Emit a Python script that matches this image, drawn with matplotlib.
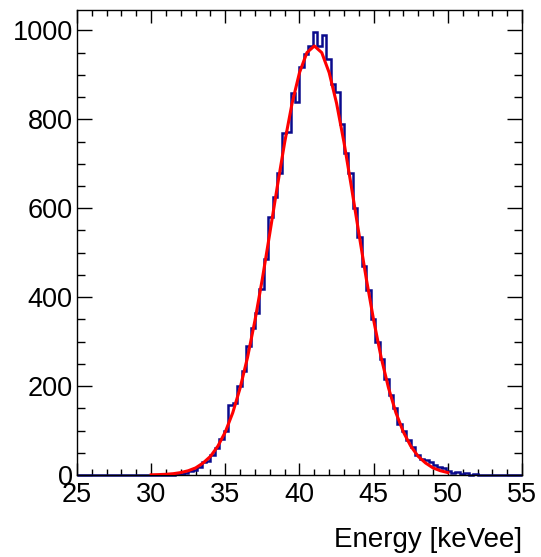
import numpy as np
import matplotlib
matplotlib.use("Agg")
import matplotlib.pyplot as plt
from matplotlib.ticker import MultipleLocator

# histogram: 100 bins from 25 to 55 keVee
X_MIN, X_MAX, N_BINS = 25.0, 55.0, 100
counts = [
    0, 0, 0, 0, 0, 0, 0, 0, 0, 0,
    0, 0, 0, 0, 0, 0, 0, 0, 0, 0,
    0, 1, 2, 3, 5, 9, 12, 18, 30, 31,
    46, 60, 82, 100, 158, 162, 200, 235, 290, 330,
    365, 418, 485, 580, 625, 680, 770, 772, 860, 840,
    918, 947, 966, 996, 966, 989, 935, 880, 861, 790,
    725, 680, 600, 535, 470, 415, 350, 300, 262, 215,
    180, 150, 115, 100, 78, 62, 45, 36, 34, 30,
    22, 18, 16, 10, 5, 6, 3, 4, 1, 2,
    0, 1, 0, 0, 0, 0, 0, 0, 0, 0,
]

# gaussian fit curve (30 -> 50 keVee, step 0.5)
fit_x = np.arange(30.0, 50.01, 0.5)
fit_y = [
    0.4, 0.9, 1.6, 3.0, 5.5, 9.6, 16, 27, 42, 65,
    97, 140, 196, 265, 348, 442, 544, 648, 748, 836,
    905, 950, 965, 950, 905, 836, 748, 648, 544, 442,
    348, 265, 196, 140, 97, 65, 42, 27, 16, 9.6,
    5.5,
]

plt.rcParams["font.family"] = ["Liberation Sans", "DejaVu Sans"]


def main():
    fig = plt.figure(figsize=(5.41, 5.57), dpi=100)
    ax = fig.add_axes([0.1423, 0.1472, 0.8226, 0.8348])

    edges = np.linspace(X_MIN, X_MAX, N_BINS + 1)
    ax.stairs(counts, edges, color="#0a0a8c", lw=1.8, clip_on=False, zorder=2)
    ax.plot(fit_x, fit_y, color="#ff0000", lw=2.2, zorder=3)

    ax.set_xlim(X_MIN, X_MAX)
    ax.set_ylim(0, max(counts) * 1.05)

    ax.xaxis.set_major_locator(MultipleLocator(5))
    ax.xaxis.set_minor_locator(MultipleLocator(1))
    ax.yaxis.set_major_locator(MultipleLocator(200))
    ax.yaxis.set_minor_locator(MultipleLocator(50))

    ax.tick_params(which="both", direction="in", top=True, right=True,
                   width=1.0, colors="black", labelsize=19.5)
    ax.tick_params(axis="x", which="major", length=9, pad=5)
    ax.tick_params(axis="x", which="minor", length=4.5)
    ax.tick_params(axis="y", which="major", length=11, pad=3)
    ax.tick_params(axis="y", which="minor", length=6)
    for s in ax.spines.values():
        s.set_linewidth(1.0)

    ax.set_xlabel("Energy [keVee]", fontsize=20, loc="right", labelpad=14)

    fig.savefig("out.png", dpi=100)
    plt.close(fig)


if __name__ == "__main__":
    main()
